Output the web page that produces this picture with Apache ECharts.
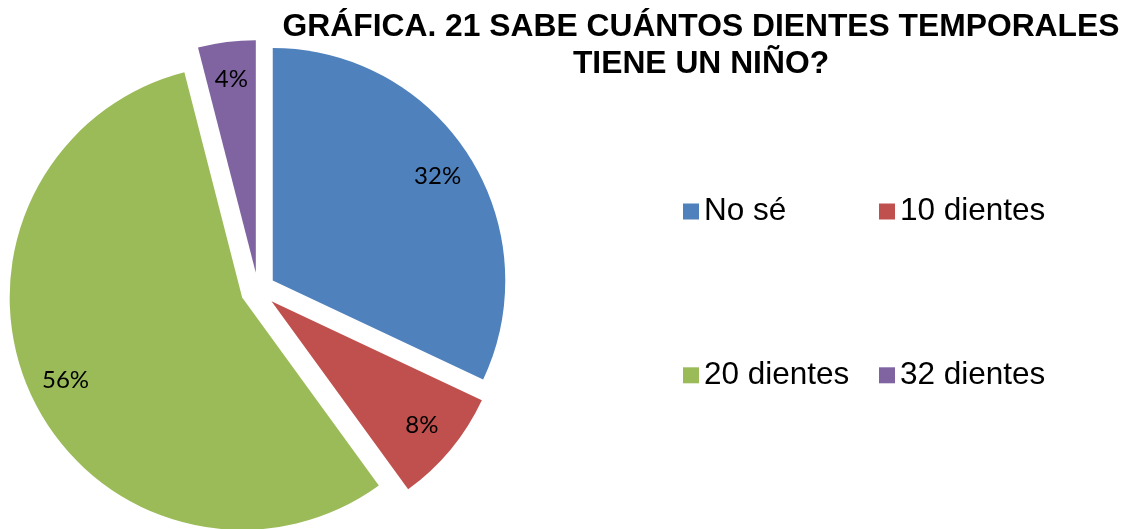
<!DOCTYPE html>
<html>
<head>
<meta charset="utf-8">
<script src="https://cdn.jsdelivr.net/npm/echarts@6/dist/echarts.min.js"></script>
<style>
  html, body { margin: 0; padding: 0; background: #fff; }
  #chart { width: 1129px; height: 529px; }
</style>
</head>
<body>
<div id="chart"></div>
<script>
// datos de la gráfica
const categories = ['No sé', '10 dientes', '20 dientes', '32 dientes']
const values = [32, 8, 56, 4]
const colors = ['#4F81BD', '#C0504D', '#9BBB59', '#8064A2']

const chart = echarts.init(document.getElementById('chart'))

const pieData = categories.map((name, i) => ({
  name: name,
  value: values[i],
  selected: true,
  itemStyle: { color: colors[i] }
}))

const legendText = { fontFamily: 'Liberation Sans', fontSize: 31.5, color: '#000', lineHeight: 32 }

const option = {
  animation: false,
  title: {
    text: 'GRÁFICA. 21 SABE CUÁNTOS DIENTES TEMPORALES\nTIENE UN NIÑO?',
    left: 696,
    top: 0,
    padding: [9, 5, 4, 5],
    textAlign: 'center',
    textStyle: {
      fontFamily: 'Liberation Sans',
      fontSize: 31.8,
      fontWeight: 'bold',
      color: '#000',
      lineHeight: 37
    }
  },
  legend: [
    {
      data: ['No sé', '20 dientes'],
      orient: 'vertical',
      left: 678,
      top: 190.5,
      icon: 'rect',
      itemWidth: 16,
      itemHeight: 16,
      itemGap: 131.8,
      selectedMode: false,
      textStyle: legendText
    },
    {
      data: ['10 dientes', '32 dientes'],
      orient: 'vertical',
      left: 874,
      top: 190.5,
      icon: 'rect',
      itemWidth: 16,
      itemHeight: 16,
      itemGap: 131.8,
      selectedMode: false,
      textStyle: legendText
    }
  ],
  series: [
    {
      // sectores
      type: 'pie',
      center: [258, 290],
      radius: 232.5,
      selectedMode: 'multiple',
      selectedOffset: 17.5,
      emphasis: { disabled: true },
      label: { show: false },
      labelLine: { show: false },
      data: pieData
    },
    {
      // anillo transparente solo para colocar las etiquetas
      type: 'pie',
      center: [258, 290],
      radius: [152, 232.5],
      selectedMode: 'multiple',
      selectedOffset: 17.5,
      silent: true,
      z: 3,
      emphasis: { disabled: true },
      itemStyle: { color: 'rgba(0,0,0,0)' },
      label: {
        show: true,
        position: 'inside',
        formatter: '{d}%',
        fontFamily: 'Lato',
        fontSize: 24,
        color: '#000'
      },
      labelLine: { show: false },
      data: categories.map((name, i) => ({ name: name, value: values[i], selected: true }))
    }
  ]
}

chart.setOption(option)
</script>
</body>
</html>
